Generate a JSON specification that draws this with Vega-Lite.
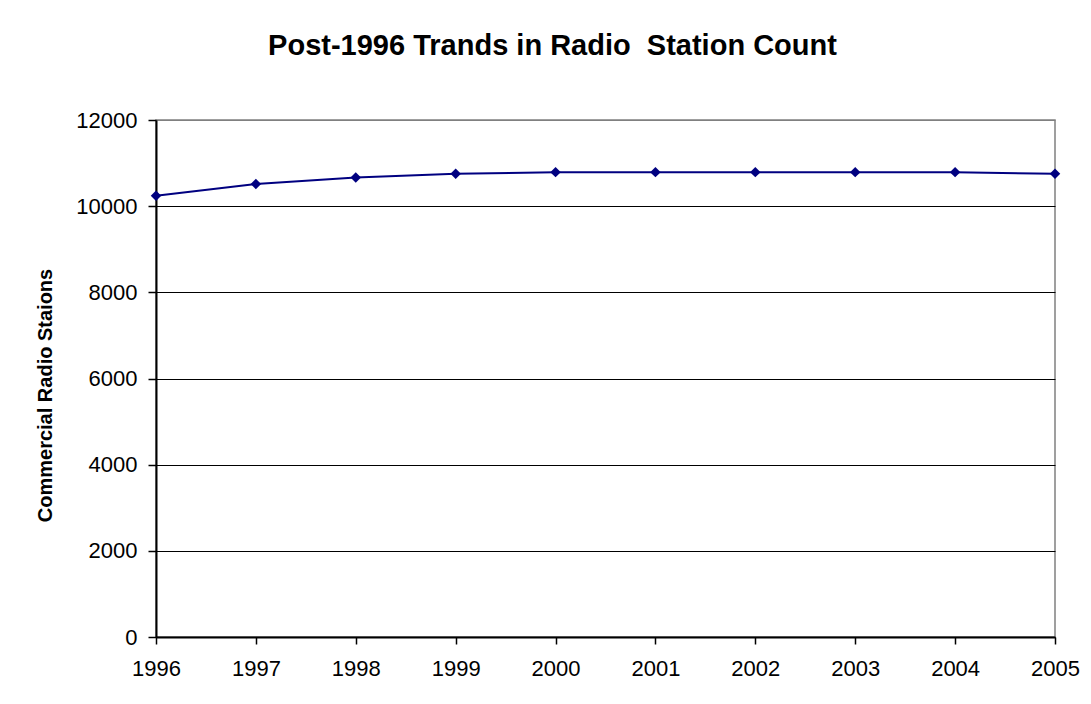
{
  "$schema": "https://vega.github.io/schema/vega-lite/v6.json",
  "width": 899,
  "height": 517,
  "autosize": {"type": "none"},
  "padding": {"left": 156, "top": 120, "right": 36, "bottom": 67},
  "background": "white",
  "title": {
    "text": "Post-1996 Trands in Radio \u00a0Station Count",
    "font": "Liberation Sans",
    "fontSize": 29,
    "fontWeight": "bold",
    "color": "black",
    "anchor": "middle",
    "frame": "group",
    "dx": -53,
    "baseline": "alphabetic",
    "offset": 25
  },
  "config": {
    "view": {"stroke": "#808080", "strokeWidth": 1.5},
    "font": "Liberation Sans"
  },
  "data": {
    "values": [
      {"year": 1996, "stations": 10240},
      {"year": 1997, "stations": 10512},
      {"year": 1998, "stations": 10667},
      {"year": 1999, "stations": 10751},
      {"year": 2000, "stations": 10790},
      {"year": 2001, "stations": 10790},
      {"year": 2002, "stations": 10790},
      {"year": 2003, "stations": 10790},
      {"year": 2004, "stations": 10790},
      {"year": 2005, "stations": 10751}
    ]
  },
  "encoding": {
    "x": {
      "field": "year",
      "type": "quantitative",
      "scale": {"domain": [1996, 2005], "nice": false, "zero": false},
      "axis": {
        "title": null,
        "values": [1996, 1997, 1998, 1999, 2000, 2001, 2002, 2003, 2004, 2005],
        "format": "d",
        "grid": false,
        "domainColor": "black",
        "domainWidth": 2,
        "tickColor": "black",
        "tickWidth": 1.5,
        "tickSize": 7,
        "labelFont": "Liberation Sans",
        "labelFontSize": 22,
        "labelColor": "black",
        "labelPadding": 14,
        "labelFlush": false,
        "labelOverlap": false
      }
    },
    "y": {
      "field": "stations",
      "type": "quantitative",
      "scale": {"domain": [0, 12000], "nice": false},
      "axis": {
        "title": "Commercial Radio Staions",
        "titleFont": "Liberation Sans",
        "titleFontSize": 20,
        "titleFontWeight": "bold",
        "titleColor": "black",
        "titleAngle": -90,
        "titleX": -111,
        "titleY": 275,
        "titleAlign": "center",
        "titleBaseline": "middle",
        "values": [0, 2000, 4000, 6000, 8000, 10000, 12000],
        "format": "d",
        "grid": true,
        "gridColor": {"condition": {"test": "datum.value == 12000", "value": "#808080"}, "value": "black"},
        "gridWidth": 1,
        "domainColor": "black",
        "domainWidth": 2,
        "tickColor": "black",
        "tickWidth": 1.5,
        "tickSize": 8,
        "labelFont": "Liberation Sans",
        "labelFontSize": 22,
        "labelColor": "black",
        "labelPadding": 11,
        "labelOverlap": false
      }
    }
  },
  "layer": [
    {"mark": {"type": "line", "color": "#000080", "strokeWidth": 2}},
    {"mark": {"type": "point", "shape": "diamond", "filled": true, "color": "#000080", "size": 110, "opacity": 1}}
  ]
}
